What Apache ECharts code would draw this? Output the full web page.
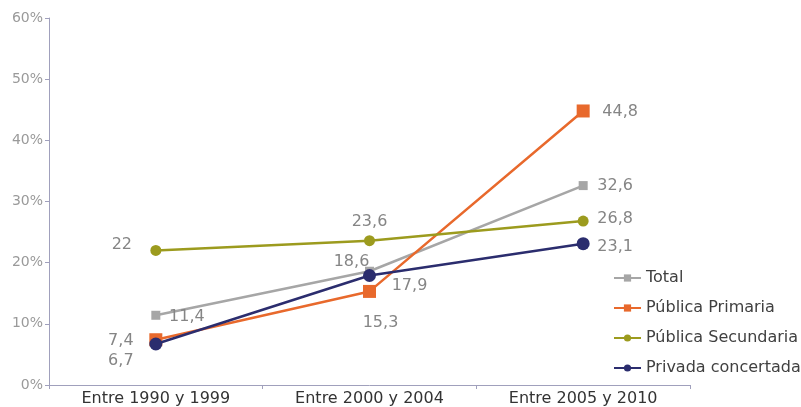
<!DOCTYPE html>
<html><head><meta charset="utf-8">
<script src="https://cdn.jsdelivr.net/npm/echarts@6/dist/echarts.min.js"></script>
<style>html,body{margin:0;padding:0;background:#fff}#c{width:801px;height:407px}</style>
</head><body><div id="c"></div>
<script>
var categories = ['Entre 1990 y 1999', 'Entre 2000 y 2004', 'Entre 2005 y 2010'];
var seriesNames = ['Total', 'Pública Primaria', 'Pública Secundaria', 'Privada concertada'];
var total = [11.4, 18.6, 32.6];
var publicaPrimaria = [7.4, 15.3, 44.8];
var publicaSecundaria = [22, 23.6, 26.8];
var privadaConcertada = [6.7, 17.9, 23.1];
var yTicks = [0, 10, 20, 30, 40, 50, 60];

var values = [total, publicaPrimaria, publicaSecundaria, privadaConcertada];
var colors = ['#a6a6a6', '#e8692c', '#9c9b1e', '#2b2d6e'];
var symbols = ['rect', 'rect', 'circle', 'circle'];
var sizes = [9, 13, 11, 13];
var labelOffsets = [
  [[31, 2], [-18, -9], [32, 0]],
  [[-35, 1], [11, 31], [37, 1]],
  [[-34, -6], [0, -19], [32, -2]],
  [[-35, 17], [40, 10], [32, 3]]
];

var chart = echarts.init(document.getElementById('c'), null, {renderer: 'canvas'});
var series = values.map(function (arr, i) {
  return {
    name: seriesNames[i],
    type: 'line',
    data: arr.map(function (v, j) {
      return {value: v, label: {offset: labelOffsets[i][j]}};
    }),
    symbol: symbols[i],
    symbolSize: sizes[i],
    color: colors[i],
    lineStyle: {width: 2.5, color: colors[i]},
    itemStyle: {color: colors[i]},
    label: {
      show: true, position: 'inside', color: '#858585',
      fontFamily: 'DejaVu Sans', fontSize: 16, letterSpacing: 1,
      formatter: function (p) { return String(p.value).replace('.', ','); }
    },
    emphasis: {disabled: true},
    animation: false,
    z: 2 + i
  };
});

chart.setOption({
  animation: false,
  grid: {left: 49, right: 111, top: 18, bottom: 22, containLabel: false},
  legend: {
    orient: 'vertical', left: 613, top: 269, padding: 0, itemGap: 12, itemWidth: 27, itemHeight: 9,
    textStyle: {color: '#404040', fontFamily: 'DejaVu Sans', fontSize: 16, lineHeight: 18},
    data: seriesNames
  },
  xAxis: {
    type: 'category', data: categories, boundaryGap: true,
    axisLine: {lineStyle: {color: '#a0a0bc', width: 1}},
    axisTick: {show: true, length: 4, inside: false, lineStyle: {color: '#a0a0bc'}},
    axisLabel: {color: '#333', fontFamily: 'DejaVu Sans', fontSize: 16, margin: 6}
  },
  yAxis: {
    type: 'value', min: yTicks[0], max: yTicks[yTicks.length - 1], interval: 10,
    axisLine: {show: true, lineStyle: {color: '#a0a0bc', width: 1}},
    axisTick: {show: true, length: 4, lineStyle: {color: '#a0a0bc'}},
    splitLine: {show: false},
    axisLabel: {color: '#9a9a9a', fontFamily: 'DejaVu Sans', fontSize: 14, margin: 6,
      formatter: function (v) { return v + '%'; }}
  },
  series: series
});
</script>
</body></html>
